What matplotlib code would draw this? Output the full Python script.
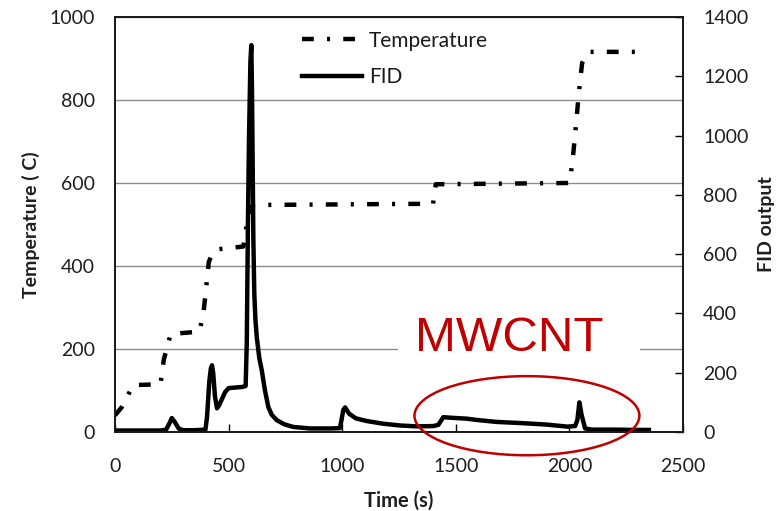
import matplotlib
matplotlib.use("Agg")
import matplotlib.pyplot as plt
from matplotlib.patches import Ellipse, Rectangle

plt.rcParams['font.family'] = ['Lato', 'DejaVu Sans']
plt.rcParams['lines.scale_dashes'] = False

# ---- data ----
temp_time = [0, 30, 80, 200, 215, 245, 372, 390, 401, 413, 430, 449, 565, 580, 595, 610,
             1400, 1405, 1412, 2000, 2004, 2016, 2026, 2035, 2044, 2056, 2075, 2088, 2308]
temp_vals = [40, 60, 113, 115, 175, 236, 242, 290, 347, 410, 432, 440, 447, 500, 540, 547,
             550, 570, 597, 600, 612, 665, 722, 777, 829, 889, 912, 916, 916]

fid_time = [0, 100, 200, 225, 240, 250, 262, 280, 300, 350, 398, 405, 415, 422, 427, 432,
            440, 449, 458, 470, 485, 500, 530, 560, 575, 580, 585, 590, 596, 600, 603, 606,
            609, 613, 618, 624, 635, 646, 660, 675, 690, 712, 745, 785, 858, 900, 950, 990,
            998, 1005, 1013, 1030, 1060, 1108, 1180, 1254, 1328, 1400, 1423, 1445, 1480,
            1548, 1600, 1680, 1790, 1900, 1993, 2025, 2035, 2044, 2053, 2069, 2100, 2200,
            2300, 2350]
fid_vals = [5, 5, 5, 8, 30, 47, 35, 12, 6, 6, 8, 50, 170, 215, 225, 200,
            120, 80, 90, 110, 135, 148, 150, 152, 155, 300, 700, 1000, 1250, 1305, 1150, 900,
            650, 470, 380, 320, 250, 208, 140, 84, 58, 40, 26, 17, 12, 12, 12, 13,
            45, 75, 83, 62, 46, 37, 28, 22, 19, 20, 24, 50, 48,
            45, 40, 34, 30, 25, 18, 20, 40, 100, 60, 12, 8, 8,
            7, 7]

x_ticks = [0, 500, 1000, 1500, 2000, 2500]
temp_ticks = [0, 200, 400, 600, 800, 1000]
fid_ticks = [0, 200, 400, 600, 800, 1000, 1200, 1400]

# ---- figure ----
fig = plt.figure(figsize=(7.78, 5.11), dpi=100)
ax1 = fig.add_axes([115/778, 1-432/511, (683-115)/778, (432-17)/511])
ax2 = ax1.twinx()

label_color = '#1e1e1e'
ax1.plot(temp_time, temp_vals, color='black', lw=3.2,
         linestyle=(0, (8.5, 9.5, 2.2, 9.5)), dash_capstyle='butt', label='Temperature')
ax2.plot(fid_time, fid_vals, color='black', lw=3.2, solid_joinstyle='round', label='FID')

ax1.set_xlim(0, 2500)
ax1.set_ylim(0, 1000)
ax2.set_ylim(0, 1400)
ax1.set_xticks(x_ticks)
ax1.set_yticks(temp_ticks)
ax2.set_yticks(fid_ticks)

ax1.yaxis.grid(True, color='#8c8c8c', lw=1.0)
ax1.set_axisbelow(True)

for ax in (ax1, ax2):
    for s in ax.spines.values():
        s.set_color('#1a1a1a')
        s.set_linewidth(1.3)

ax1.tick_params(axis='x', direction='in', length=6, width=1, pad=19, labelsize=14, labelcolor=label_color)
ax1.tick_params(axis='y', direction='in', length=0, pad=14.5, labelsize=14, labelcolor=label_color)
ax2.tick_params(axis='y', direction='in', length=6, width=1, pad=14.5, labelsize=14, labelcolor=label_color)

ax1.set_xlabel('Time (s)', fontsize=14.5, fontweight='bold', color=label_color, labelpad=11)
ax1.set_ylabel('Temperature ( C)', fontsize=14, fontweight='bold', color=label_color, labelpad=7)
ax2.set_ylabel('FID output', fontsize=14, fontweight='bold', color=label_color,
               rotation=90, labelpad=7)

# legend
h1, l1 = ax1.get_legend_handles_labels()
h2, l2 = ax2.get_legend_handles_labels()
leg = ax2.legend(h1 + h2, l1 + l2, loc='upper left', bbox_to_anchor=(0.296, 1.012),
                 frameon=False, fontsize=15, handlelength=2.9, handletextpad=0.33,
                 labelspacing=0.78)
for t in leg.get_texts():
    t.set_color('#1a1a1a')

# annotation: white box, MWCNT text, red ellipse
ax2.add_patch(Rectangle((1246, 230), 2311 - 1246, 110, facecolor='white', edgecolor='none',
                        zorder=3, clip_on=False))
ax2.text(1322, 273, 'MWCNT', fontsize=35.5, color='#c00000', family='Liberation Sans',
         va='baseline', ha='left', zorder=4)
ax2.add_patch(Ellipse((1813, 55), 990, 267, facecolor='none', edgecolor='#c00000', lw=1.8,
                      zorder=5, clip_on=False))

fig.savefig('out.png', dpi=100)
